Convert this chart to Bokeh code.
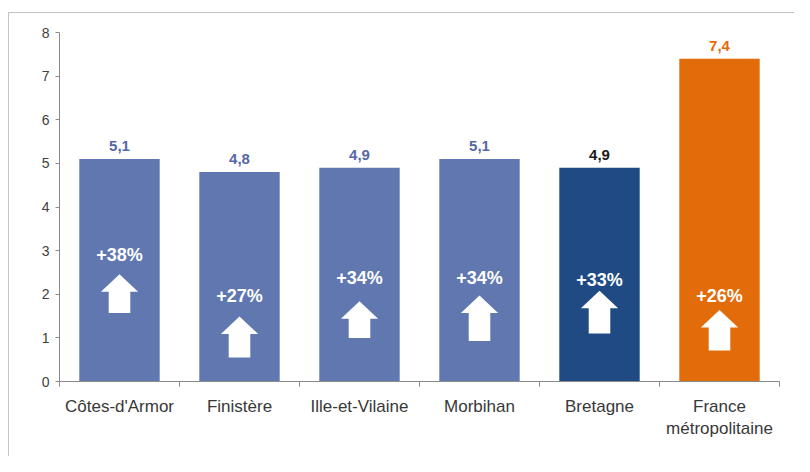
from bokeh.plotting import figure
from bokeh.models import FixedTicker, Range1d, ColumnDataSource
from bokeh.core.properties import value
from bokeh.embed import file_html
from bokeh.resources import INLINE

# ---- data ----
categories = ["Côtes-d'Armor", "Finistère", "Ille-et-Vilaine", "Morbihan",
              "Bretagne", "France\nmétropolitaine"]
values = [5.1, 4.8, 4.9, 5.1, 4.9, 7.4]
value_labels = ["5,1", "4,8", "4,9", "5,1", "4,9", "7,4"]
growth_labels = ["+38%", "+27%", "+34%", "+34%", "+33%", "+26%"]
growth_label_y = [2.9, 1.97, 2.37, 2.37, 2.33, 1.95]
arrow_bottom = [1.57, 0.55, 1.0, 0.93, 1.1, 0.71]
arrow_top = [2.46, 1.49, 1.84, 1.97, 2.08, 1.64]
y_ticks = [0, 1, 2, 3, 4, 5, 6, 7, 8]

# ---- styles ----
bar_colors = ["#6177B0", "#6177B0", "#6177B0", "#6177B0", "#1F4A84", "#E36C0A"]
value_colors = ["#5567A6", "#5567A6", "#5567A6", "#5567A6", "#1A1A1A", "#E36C0A"]
FONT = "Liberation Sans"
EDGE = "linear-gradient(#c4c4c4, #c4c4c4)"

xs = [i + 0.5 for i in range(len(categories))]

p = figure(width=794, height=456, output_backend="svg", toolbar_location=None,
           x_range=Range1d(0, len(categories)), y_range=Range1d(0, 8),
           min_border_left=59, min_border_right=15, min_border_top=32,
           min_border_bottom=75,
           styles={"background": f"{EDGE} 8px 12px / 1px 100% no-repeat, "
                                 f"{EDGE} 8px 12px / 100% 1px no-repeat, white"})
p.outline_line_color = None
p.border_fill_color = None
p.background_fill_color = None
p.xgrid.visible = False
p.ygrid.visible = False

bars = ColumnDataSource(dict(x=xs, top=values, color=bar_colors,
                             vlab=value_labels, vcol=value_colors,
                             glab=growth_labels, gy=growth_label_y))
p.vbar(x="x", top="top", bottom=0, width=0.67, fill_color="color",
       line_color=None, source=bars)

# value labels above bars
p.text(x="x", y="top", text="vlab", text_color="vcol", source=bars,
       text_align="center", text_baseline="bottom", y_offset=-8,
       text_font=value(FONT), text_font_size="15px", text_font_style="bold")

# arrows
shaft_hw = 0.09
head_hw = 0.155
head_h = 0.40
axs, ays = [], []
for cx, b, t in zip(xs, arrow_bottom, arrow_top):
    s = t - head_h
    axs.append([cx - shaft_hw, cx + shaft_hw, cx + shaft_hw, cx + head_hw,
                cx, cx - head_hw, cx - shaft_hw])
    ays.append([b, b, s, s, t, s, s])
p.patches(axs, ays, fill_color="white", line_color=None)

# growth labels
p.text(x="x", y="gy", text="glab", source=bars, text_color="white",
       text_align="center", text_baseline="middle",
       text_font=value(FONT), text_font_size="18px", text_font_style="bold")

# y axis
ya = p.yaxis[0]
ya.ticker = FixedTicker(ticks=y_ticks)
ya.axis_line_color = "#8a8a8a"
ya.major_tick_line_color = "#8a8a8a"
ya.major_tick_out = 4
ya.major_tick_in = 0
ya.minor_tick_line_color = None
ya.major_label_standoff = 6
ya.major_label_text_font = FONT
ya.major_label_text_font_size = "14px"
ya.major_label_text_color = "#404040"

# x axis
xa = p.xaxis[0]
xa.ticker = FixedTicker(ticks=xs, minor_ticks=list(range(len(categories) + 1)))
xa.major_label_overrides = {x: c for x, c in zip(xs, categories)}
xa.axis_line_color = "#8a8a8a"
xa.major_tick_line_color = None
xa.major_tick_out = 0
xa.major_tick_in = 0
xa.minor_tick_line_color = "#8a8a8a"
xa.minor_tick_out = 5
xa.minor_tick_in = 0
xa.major_label_standoff = 10
xa.major_label_text_font = FONT
xa.major_label_text_font_size = "17px"
xa.major_label_text_color = "#383838"

open("out.html", "w").write(file_html(p, INLINE))
